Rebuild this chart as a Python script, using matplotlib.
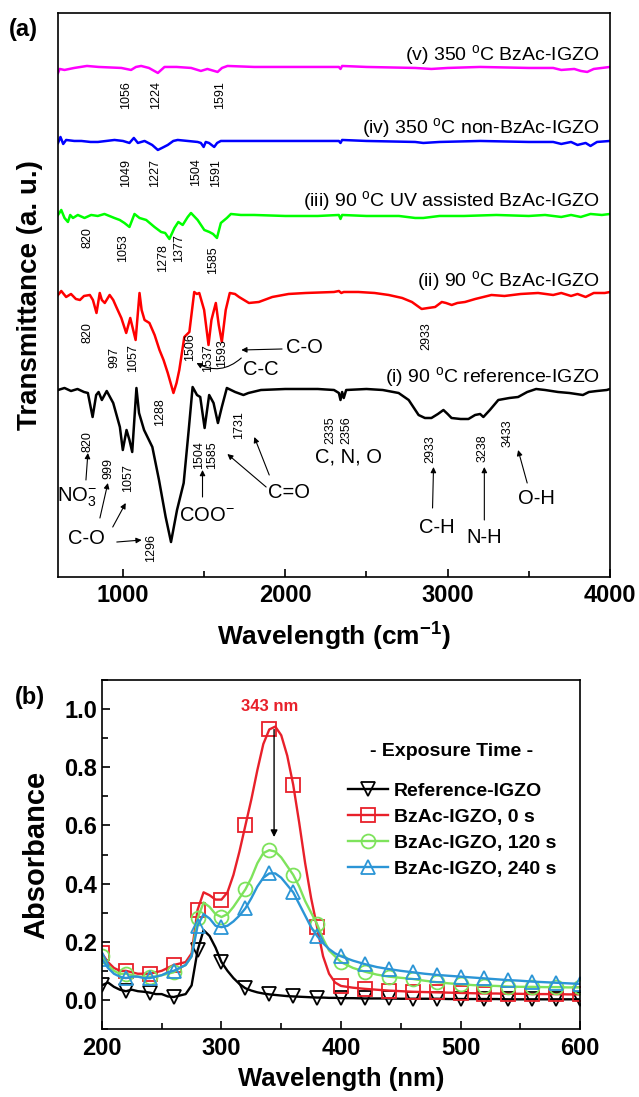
import numpy as np
import matplotlib
matplotlib.use('Agg')
import matplotlib.pyplot as plt
from matplotlib.ticker import MultipleLocator

plt.rcParams['font.family'] = 'Liberation Sans'
plt.rcParams['mathtext.fontset'] = 'custom'
plt.rcParams['mathtext.rm'] = 'Liberation Sans'
plt.rcParams['mathtext.it'] = 'Liberation Sans:italic'
plt.rcParams['mathtext.bf'] = 'Liberation Sans:bold'
plt.rcParams['axes.linewidth'] = 1.2

# ---------------- (a) FTIR spectra, deviation from each baseline (a. u.)
wn_i = [600, 640, 680, 720, 760, 784, 813, 835, 850, 870, 900, 940, 981, 999, 1022, 1040, 1057, 1070, 1083, 1099,
        1130, 1181, 1222, 1263, 1296, 1333, 1374, 1405, 1429, 1456, 1476, 1503, 1531, 1558, 1585, 1609, 1640, 1691,
        1742, 1773, 1850, 2000, 2200, 2300, 2330, 2340, 2350, 2360, 2375, 2500, 2600, 2698, 2760, 2821, 2860, 2900,
        2940, 2974, 3000, 3024, 3080, 3128, 3169, 3200, 3220, 3260, 3312, 3380, 3434, 3490, 3545, 3600, 3680, 3750,
        3833, 3870, 3920, 3980, 4000]
tr_i = [-1, 1, -2, 0, -3, -4, -28, -6, -3, -11, -2, -14, -38, -61, -41, -51, -63, -31, 1, -24,
        -41, -58, -91, -128, -153, -121, -94, -41, 2, -6, -8, -39, -6, -14, -34, -18, 1, -3,
        -6, -4, -1, 0, 0, -1, -4, -11, -3, -9, -1, 0, -1, -4, -11, -26, -29, -29,
        -25, -21, -25, -29, -30, -30, -26, -25, -28, -21, -11, -9, -8, -3, 0, -1, -3, -4,
        -6, -3, -2, -1, 0]

wn_ii = [600, 620, 650, 680, 710, 735, 760, 796, 815, 837, 857, 870, 888, 918, 940, 959, 990, 1020, 1045, 1078,
         1102, 1115, 1133, 1163, 1195, 1225, 1250, 1276, 1311, 1330, 1347, 1378, 1409, 1439, 1455, 1470, 1500,
         1527, 1545, 1556, 1572, 1590, 1609, 1633, 1658, 1690, 1715, 1776, 1837, 1920, 2020, 2126, 2300, 2330,
         2345, 2360, 2450, 2550, 2637, 2720, 2780, 2840, 2880, 2923, 2964, 2990, 3025, 3060, 3107, 3170, 3270,
         3350, 3450, 3557, 3650, 3700, 3760, 3800, 3850, 3900, 3968, 4000]
tr_ii = [-2, 2, -4, -1, -6, -7, -3, -2, -7, -20, 0, -7, -10, -2, -7, -14, -25, -40, -25, -47,
         0, -17, -27, -30, -42, -57, -67, -80, -100, -90, -77, -44, -39, 1, -1, 0, -17,
         -52, -27, -20, -10, -32, -49, -17, 0, -1, -4, -10, -9, -4, -1, 0, 1, 2,
         0, 1, 1, 0, -2, -5, -9, -16, -15, -14, -9, -10, -12, -10, -9, -6, -2,
         -3, -1, 0, -2, 0, -3, -1, -4, 0, 0, 1]

wn_iii = [600, 620, 640, 661, 675, 692, 722, 763, 804, 845, 886, 947, 980, 1009, 1040, 1071, 1102, 1143, 1194,
          1235, 1260, 1286, 1317, 1341, 1368, 1399, 1419, 1460, 1501, 1532, 1555, 1579, 1603, 1640, 1665, 1726,
          1808, 2000, 2200, 2330, 2340, 2350, 2500, 2700, 2800, 2850, 2900, 2950, 3100, 3300, 3500, 3600, 3700,
          3760, 3820, 3880, 3950, 4000]
tr_iii = [0, 5, -3, -7, 0, -3, 0, -3, 0, -1, 1, -3, -5, -8, -12, 1, -3, -5, -12,
          -17, -18, -24, -13, -7, -10, -2, 2, -5, -15, -17, -19, -23, -8, -3, 1, 0,
          0, -1, -1, 0, -4, 0, -1, -1, -3, -3, -2, -1, -1, 0, -1, 0, -2,
          0, -2, 1, 0, 1]

wn_iv = [600, 615, 632, 650, 700, 744, 800, 846, 948, 1000, 1040, 1067, 1092, 1133, 1180, 1215, 1240, 1276, 1310,
         1337, 1399, 1460, 1480, 1497, 1510, 1530, 1562, 1580, 1603, 1700, 1808, 2000, 2330, 2340, 2350, 2500,
         2800, 2850, 2950, 3200, 3500, 3650, 3700, 3760, 3800, 3850, 3880, 3920, 4000]
tr_iv = [-2, 4, -3, 1, 0, 0, -1, -1, 1, 0, -2, 3, -2, 0, -4, -9, -7, -4, 0,
         1, 0, -1, -2, -6, -1, -2, -6, -2, 0, 0, 0, 0, 0, -2, 1, 0,
         -1, -2, -1, 0, -1, -1, -3, -1, -4, -2, -5, -1, 0]

wn_v = [600, 610, 640, 700, 778, 850, 990, 1050, 1080, 1112, 1160, 1215, 1256, 1330, 1420, 1480, 1520, 1583, 1610,
        1644, 1808, 2000, 2330, 2340, 2350, 2500, 2800, 2900, 3000, 3200, 3500, 3650, 3700, 3780, 3820, 3860,
        3900, 4000]
tr_v = [-6, -2, -3, -1, 1, 0, -1, -3, 0, 1, -1, -6, 0, 0, -1, -4, -2, -5, -1,
        1, 0, 0, 0, -2, 1, 0, -1, -2, -1, 0, -1, -1, -3, -2, -4, -5,
        -2, 0]

sample_names = [r'(i) 90 $^{\rm o}$C reference-IGZO',
                r'(ii) 90 $^{\rm o}$C BzAc-IGZO',
                r'(iii) 90 $^{\rm o}$C UV assisted BzAc-IGZO',
                r'(iv) 350 $^{\rm o}$C non-BzAc-IGZO',
                r'(v) 350 $^{\rm o}$C BzAc-IGZO']
baselines = [188, 284, 362, 436, 510]
name_heights = [200, 296, 376, 449, 522]
ftir_colors = ['black', '#ff0000', '#00ff00', '#0000ff', '#ff00ff']

peak_labels = [('1056', 1021, 482), ('1224', 1205, 482), ('1591', 1598, 482),
               ('1049', 1021, 404), ('1227', 1195, 404), ('1504', 1451, 405), ('1591', 1574, 404),
               ('820', 780, 339), ('1053', 1001, 329), ('1278', 1246, 319), ('1377', 1348, 329), ('1585', 1553, 317),
               ('820', 780, 244), ('997', 950, 219), ('1057', 1062, 219), ('1288', 1226, 165),
               ('1506', 1414, 230), ('1537', 1522, 219), ('1593', 1610, 224), ('2933', 2868, 241),
               ('820', 780, 135), ('999', 909, 109), ('1057', 1031, 99), ('1296', 1175, 29),
               ('1504', 1467, 122), ('1585', 1547, 122), ('1731', 1717, 152), ('2335', 2275, 147),
               ('2356', 2377, 147), ('2933', 2893, 128), ('3238', 3214, 129), ('3433', 3367, 144)]

# ---------------- (b) UV-vis absorbance
wl = [200, 205, 210, 215, 220, 225, 230, 235, 240, 245, 250, 255, 260, 265, 270, 275, 280, 285, 290, 295,
      300, 305, 310, 315, 320, 325, 330, 335, 340, 345, 350, 355, 360, 365, 370, 375, 380, 385, 390, 395,
      400, 410, 420, 430, 440, 450, 460, 470, 480, 490, 500, 510, 520, 530, 540, 550, 560, 570, 580, 590, 600]
abs_ref = [0.05, 0.06, 0.045, 0.035, 0.03, 0.035, 0.03, 0.028, 0.025, 0.02, 0.02, 0.012, 0.01, 0.015, 0.02, 0.05,
           0.17, 0.24, 0.22, 0.18, 0.13, 0.10, 0.075, 0.055, 0.04, 0.032, 0.026, 0.022, 0.019, 0.017, 0.015, 0.013,
           0.012, 0.011, 0.01, 0.009, 0.008, 0.008, 0.007, 0.007, 0.006, 0.006, 0.005, 0.005, 0.005, 0.004, 0.004,
           0.004, 0.004, 0.003, 0.003, 0.003, 0.003, 0.003, 0.002, 0.002, 0.002, 0.002, 0.002, 0.002, 0.002]
abs_0s = [0.16, 0.13, 0.11, 0.10, 0.10, 0.095, 0.09, 0.09, 0.09, 0.095, 0.10, 0.11, 0.12, 0.125, 0.13, 0.16,
          0.31, 0.37, 0.36, 0.345, 0.345, 0.37, 0.43, 0.51, 0.60, 0.69, 0.79, 0.88, 0.93, 0.94, 0.91, 0.84,
          0.74, 0.61, 0.47, 0.35, 0.25, 0.15, 0.09, 0.06, 0.048, 0.042, 0.038, 0.035, 0.032, 0.03, 0.028,
          0.027, 0.026, 0.025, 0.024, 0.023, 0.022, 0.022, 0.021, 0.021, 0.02, 0.02, 0.02, 0.019, 0.019]
abs_120s = [0.15, 0.12, 0.10, 0.09, 0.09, 0.085, 0.08, 0.08, 0.08, 0.08, 0.085, 0.09, 0.095, 0.11, 0.12, 0.15,
            0.28, 0.335, 0.32, 0.295, 0.285, 0.295, 0.32, 0.35, 0.38, 0.42, 0.47, 0.505, 0.515, 0.51, 0.49, 0.46,
            0.43, 0.39, 0.34, 0.30, 0.26, 0.21, 0.17, 0.15, 0.13, 0.11, 0.097, 0.087, 0.08, 0.076, 0.072,
            0.066, 0.061, 0.057, 0.054, 0.051, 0.049, 0.048, 0.046, 0.045, 0.045, 0.044, 0.044, 0.043, 0.043]
abs_240s = [0.14, 0.11, 0.09, 0.08, 0.075, 0.08, 0.08, 0.075, 0.075, 0.08, 0.085, 0.095, 0.10, 0.11, 0.12, 0.15,
            0.255, 0.295, 0.28, 0.255, 0.25, 0.255, 0.27, 0.29, 0.315, 0.35, 0.39, 0.42, 0.435, 0.435, 0.42, 0.395,
            0.37, 0.33, 0.29, 0.25, 0.22, 0.195, 0.175, 0.16, 0.15, 0.135, 0.123, 0.113, 0.106, 0.10, 0.095,
            0.09, 0.086, 0.083, 0.08, 0.077, 0.074, 0.071, 0.068, 0.066, 0.063, 0.061, 0.059, 0.057, 0.055]
uv_labels = ['Reference-IGZO', 'BzAc-IGZO, 0 s', 'BzAc-IGZO, 120 s', 'BzAc-IGZO, 240 s']
uv_colors = ['black', '#e8202a', '#7ee35c', '#2b95d6']
uv_markers = ['v', 's', 'o', '^']

fig = plt.figure(figsize=(6.39, 10.97), dpi=100)

########################################################################
ax = fig.add_axes([0.0908, 0.4740, 0.8638, 0.5142])
spectra = [(wn_i, tr_i), (wn_ii, tr_ii), (wn_iii, tr_iii), (wn_iv, tr_iv), (wn_v, tr_v)]
for k in range(5):
    x, d = spectra[k]
    ax.plot(x, np.array(d) + baselines[k], color=ftir_colors[k], lw=1.8)
    ax.text(3937, name_heights[k], sample_names[k], fontsize=14, ha='right', va='center')

for txt, x, y in peak_labels:
    ax.text(x, y, txt, fontsize=9, rotation=90, ha='center', va='center')

arw = dict(arrowstyle='-|>', color='black', lw=0.8, mutation_scale=8, shrinkA=0, shrinkB=0)
gsize = 14.5
ax.text(717, 80, r'NO$_3^{-}$', fontsize=gsize, ha='center', va='center')
ax.annotate('', xy=(784, 124), xytext=(772, 97), arrowprops=arw)
ax.text(778, 39, 'C-O', fontsize=gsize, ha='center', va='center')
ax.annotate('', xy=(907, 94), xytext=(858, 59), arrowprops=arw)
ax.annotate('', xy=(1017, 74), xytext=(937, 50), arrowprops=arw)
ax.annotate('', xy=(1115, 37), xytext=(962, 35), arrowprops=arw)
ax.text(1514, 62, r'COO$^{-}$', fontsize=gsize, ha='center', va='center')
ax.annotate('', xy=(1490, 107), xytext=(1490, 80), arrowprops=arw)
ax.text(2023, 85, 'C=O', fontsize=gsize, ha='center', va='center')
ax.annotate('', xy=(1643, 123), xytext=(1882, 90), arrowprops=arw)
ax.annotate('', xy=(1809, 140), xytext=(1901, 102), arrowprops=arw)
ax.text(2115, 229, 'C-O', fontsize=gsize, ha='center', va='center')
ax.annotate('', xy=(1729, 227), xytext=(1980, 228), arrowprops=arw)
ax.text(1852, 207, 'C-C', fontsize=gsize, ha='center', va='center')
ax.annotate('', xy=(1453, 214), xytext=(1729, 219),
            arrowprops=dict(arw, connectionstyle='arc3,rad=-0.35'))
ax.text(2391, 120, 'C, N, O', fontsize=gsize, ha='center', va='center')
ax.text(2931, 50, 'C-H', fontsize=gsize, ha='center', va='center')
ax.annotate('', xy=(2913, 110), xytext=(2907, 69), arrowprops=arw)
ax.text(3226, 40, 'N-H', fontsize=gsize, ha='center', va='center')
ax.annotate('', xy=(3226, 110), xytext=(3226, 57), arrowprops=arw)
ax.text(3545, 79, 'O-H', fontsize=gsize, ha='center', va='center')
ax.annotate('', xy=(3434, 127), xytext=(3490, 94), arrowprops=arw)

ax.set_xlim(600, 4000)
ax.set_ylim(0, 564)
ax.set_yticks([])
ax.xaxis.set_major_locator(MultipleLocator(1000))
ax.xaxis.set_minor_locator(MultipleLocator(500))
ax.tick_params(axis='x', which='both', direction='in', labelsize=17, width=1.2, pad=5)
ax.tick_params(axis='x', which='major', length=6)
ax.tick_params(axis='x', which='minor', length=4)
for lab in ax.get_xticklabels():
    lab.set_fontweight('bold')
ax.set_xlabel(r'Wavelength (cm$^{\mathbf{-1}}$)', fontsize=19, fontweight='bold', labelpad=10)
ax.set_ylabel('Transmittance (a. u.)', fontsize=20, fontweight='bold', labelpad=11)
fig.text(0.036, 0.9727, '(a)', fontsize=17, fontweight='bold', ha='center', va='center')

########################################################################
bx = fig.add_axes([0.1596, 0.0620, 0.7481, 0.3181])
wl_arr = np.array(wl)
mark = np.isin(wl_arr, np.arange(200, 601, 20))
series = [abs_ref, abs_0s, abs_120s, abs_240s]
for k in range(4):
    bx.plot(wl_arr, series[k], color=uv_colors[k], lw=1.7, marker=uv_markers[k], markevery=mark,
            markersize=10, markerfacecolor='none', markeredgecolor=uv_colors[k], markeredgewidth=1.3,
            label=uv_labels[k])

bx.text(340.5, 1.01, '343 nm', color='#e8202a', fontsize=12, fontweight='bold', ha='center', va='center')
bx.annotate('', xy=(344, 0.56), xytext=(344, 0.93),
            arrowprops=dict(arrowstyle='-|>', color='black', lw=1.0, mutation_scale=10, shrinkA=0, shrinkB=0))
bx.text(0.732, 0.794, '- Exposure Time -', transform=bx.transAxes, fontsize=14, fontweight='bold',
        ha='center', va='center')
leg = bx.legend(loc='upper left', bbox_to_anchor=(0.515, 0.708), frameon=False, borderpad=0, borderaxespad=0,
                handlelength=2.06, handletextpad=0.3, labelspacing=0.44, prop={'size': 14, 'weight': 'bold'})

bx.set_xlim(200, 600)
bx.set_ylim(-0.1, 1.1)
bx.xaxis.set_major_locator(MultipleLocator(100))
bx.xaxis.set_minor_locator(MultipleLocator(50))
bx.yaxis.set_major_locator(MultipleLocator(0.2))
bx.yaxis.set_minor_locator(MultipleLocator(0.1))
bx.yaxis.set_major_formatter(plt.FuncFormatter(lambda v, p: '{:.1f}'.format(v)))
bx.tick_params(which='both', direction='in', labelsize=17, width=1.2)
bx.tick_params(axis='x', which='both', pad=6)
bx.tick_params(which='major', length=6)
bx.tick_params(which='minor', length=4)
for lab in bx.get_xticklabels() + bx.get_yticklabels():
    lab.set_fontweight('bold')
bx.set_xlabel('Wavelength (nm)', fontsize=18.5, fontweight='bold', labelpad=5)
bx.set_ylabel('Absorbance', fontsize=21, fontweight='bold', labelpad=10)
fig.text(0.047, 0.3646, '(b)', fontsize=17, fontweight='bold', ha='center', va='center')

plt.savefig('out.png', dpi=100)
